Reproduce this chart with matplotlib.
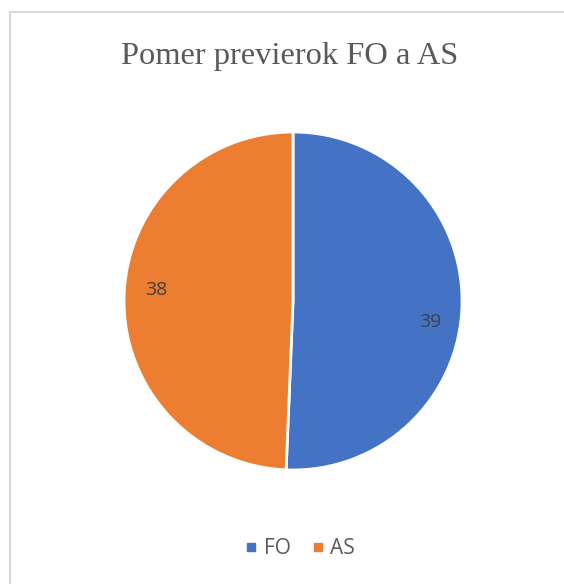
import matplotlib.pyplot as plt
from matplotlib.lines import Line2D

labels = ['FO', 'AS']
values = [39, 38]
colors = ['#4472C4', '#ED7D31']

fig = plt.figure(figsize=(5.64, 5.84), dpi=100)
fig.patch.set_facecolor('white')

# chart area border (only left + top visible in the crop)
fig.add_artist(Line2D([0.0186, 0.0186], [0.0, 0.9786], transform=fig.transFigure,
                      color='#d9d9d9', lw=1.5))
fig.add_artist(Line2D([0.0186, 1.0], [0.9786, 0.9786], transform=fig.transFigure,
                      color='#d9d9d9', lw=1.5))

ax = fig.add_axes([0.2199, 0.1952, 0.5993, 0.5788])
wedges, texts, autotexts = ax.pie(
    values, colors=colors, startangle=90, counterclock=False,
    autopct=lambda p: f'{p * sum(values) / 100:.0f}', pctdistance=0.81,
    wedgeprops=dict(edgecolor='white', linewidth=2),
    textprops=dict(color='#404040', fontsize=14, family='Open Sans'))
ax.set_xlim(-1, 1)
ax.set_ylim(-1, 1)
ax.set_aspect('equal')

# excel nudges the data labels a bit off the mid angle
for t, dy in zip(autotexts, [-0.11, 0.05]):
    x, y = t.get_position()
    t.set_position((x, y + dy))

fig.text(0.514, 0.903, 'Pomer previerok FO a AS', ha='center', va='center',
         fontsize=23.4, color='#595959', family='Liberation Serif')

handles = [Line2D([], [], marker='s', ls='', color=c, markersize=6) for c in colors]
fig.legend(handles, labels, loc='center', bbox_to_anchor=(0.526, 0.06), ncol=2,
           frameon=False, handletextpad=0.0, columnspacing=0.7, handlelength=1.2,
           prop=dict(family='Open Sans', size=15), labelcolor='#595959')

fig.savefig('out.png', dpi=100)
